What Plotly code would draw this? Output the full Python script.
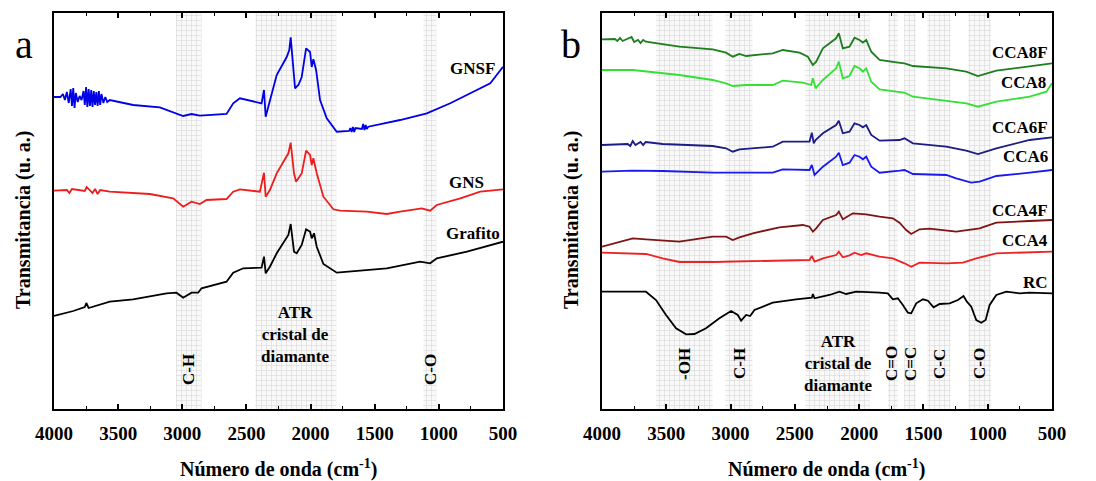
import plotly.graph_objects as go

# ---------------- data (wavenumber cm-1, transmittance a.u.) ----------------
gnsf_wn = [4000, 3950, 3930, 3915, 3900, 3885, 3870, 3860, 3850, 3840, 3830, 3815, 3800, 3785, 3770,
           3760, 3750, 3740, 3730, 3720, 3710, 3700, 3690, 3680, 3670, 3660, 3650, 3640, 3630, 3615,
           3600, 3585, 3565, 3383, 3175, 3045, 2993, 2928, 2863, 2655, 2603, 2551, 2447, 2382, 2363,
           2350, 2330, 2264, 2186, 2166, 2155, 2134, 2121, 2095, 2069, 2035, 2004, 1991, 1978, 1957,
           1926, 1874, 1796, 1700, 1690, 1680, 1670, 1660, 1650, 1600, 1590, 1580, 1570, 1562, 1550,
           1302, 1094, 911, 729, 599, 500]
gnsf_y = [312, 312, 315, 309, 317, 306, 320, 303, 321, 301, 316, 307, 313, 309, 318,
          304, 322, 302, 320, 303, 319, 302, 318, 304, 317, 303, 318, 304, 315, 306,
          312, 307, 309, 304, 301.7, 296, 293, 295, 293.3, 295, 305.7, 310.7, 308, 305.7, 319,
          292.3, 302, 334, 352, 359, 371.7, 342, 320.7, 324, 332, 360.7, 357, 342, 349.7, 339,
          309, 290.7, 277.3, 278, 281, 277, 282, 277, 281, 280, 285, 279, 284, 280, 282.3,
          289, 295.7, 305.7, 317.3, 325.7, 342.3]

gns_wn = [4000, 3900, 3880, 3860, 3760, 3745, 3700, 3680, 3660, 3640, 3565, 3253, 3071, 2993, 2928,
          2863, 2811, 2655, 2603, 2551, 2395, 2363, 2350, 2317, 2264, 2173, 2155, 2129, 2113, 2069,
          2035, 2004, 1991, 1978, 1952, 1900, 1822, 1770, 1562, 1406, 1302, 1133, 1068, 1016, 833,
          677, 500]
gns_y = [218.3, 219, 216, 220, 218, 222, 216, 220, 215, 219, 217.3, 215, 210.7, 202.3, 207.3,
         205, 209, 210, 217.3, 219.7, 217.3, 236.3, 212.3, 219, 235.7, 255.7, 266.3, 235.7, 227.3, 235.7,
         258.3, 254, 244, 250.7, 235.7, 212.3, 199.7, 198.3, 197.3, 195, 197.3, 200.7, 198.3, 204, 210.7,
         217.3, 219.7]

graf_wn = [4000, 3850, 3760, 3748, 3730, 3565, 3383, 3123, 3045, 2993, 2928, 2876, 2850, 2759, 2655,
           2603, 2525, 2382, 2363, 2350, 2317, 2264, 2173, 2155, 2129, 2108, 2069, 2035, 2004, 1991,
           1973, 1952, 1900, 1796, 1562, 1406, 1146, 1068, 1016, 781, 500]
graf_y = [93, 98, 102, 106, 101, 107.3, 109.7, 115.7, 116.3, 111.3, 116.3, 116.3, 120.7, 124, 127.3,
          136.3, 140.7, 141.3, 152.3, 135.7, 142.3, 155.7, 174, 185, 157.3, 155.7, 164, 179.7, 177.3, 170.7,
          175.7, 162.3, 145, 136.3, 139, 140.7, 147.3, 145.7, 150.7, 157.3, 167.3]

cca8f_wn = [4000, 3900, 3880, 3860, 3840, 3800, 3770, 3750, 3720, 3700, 3680, 3658, 3398, 3139, 3035,
            2983, 2931, 2879, 2672, 2594, 2464, 2399, 2360, 2334, 2282, 2179, 2158, 2127, 2075, 2036,
            1997, 1971, 1945, 1906, 1841, 1712, 1647, 1582, 1322, 1167, 1076, 933, 674, 500]
cca8f_y = [369.7, 370, 368, 371, 368, 370, 372, 367, 369, 366, 369, 367.3, 362.3, 359.7, 356.3,
           352.3, 355, 353, 355.7, 359, 356.3, 352.3, 344, 347.3, 360.7, 370.7, 375.7, 360.7, 362.3, 371.3,
           369, 366.3, 369, 357.3, 349, 346.7, 345.7, 343, 340.7, 337.3, 333, 338.3, 342.3, 345.7]

cca8_wn = [4000, 3761, 3398, 3139, 3035, 2983, 2879, 2672, 2594, 2438, 2373, 2360, 2339, 2282, 2179,
           2158, 2127, 2075, 2036, 1997, 1971, 1945, 1906, 1841, 1712, 1647, 1582, 1322, 1167, 1076,
           933, 674, 544, 500]
cca8_y = [339, 339, 334, 329, 325.7, 323, 324, 324, 328.3, 326.3, 324, 330.7, 320.7, 329, 340.7,
          347.3, 330.7, 333, 343, 340.7, 337.3, 340.7, 327.3, 319.7, 317.3, 316.3, 312.3, 308.3, 305.7, 302.3,
          307.3, 312.3, 317.3, 325.7]

cca6f_wn = [4000, 3800, 3780, 3761, 3740, 3700, 3680, 3660, 3528, 3139, 3035, 2983, 2931, 2672, 2594,
            2386, 2368, 2353, 2339, 2282, 2179, 2158, 2127, 2075, 2036, 1997, 1971, 1945, 1906, 1841,
            1686, 1647, 1582, 1322, 1167, 1076, 933, 674, 500]
cca6f_y = [264, 265, 263, 268, 264, 267, 264, 267, 265, 263, 260.7, 257.3, 259.7, 262.3, 267.3,
           267.3, 276.3, 265.7, 269, 275.7, 284, 288.3, 275.7, 277.3, 285.7, 284, 281.7, 284, 274, 268.3,
           269, 270.7, 265.7, 262.3, 258.3, 255, 260.7, 269, 271.7]

cca6_wn = [4000, 3761, 3528, 3139, 2672, 2594, 2386, 2368, 2347, 2282, 2179, 2158, 2127, 2075, 2036,
           1997, 1971, 1945, 1906, 1841, 1686, 1647, 1582, 1322, 1245, 1128, 1063, 933, 674, 500]
cca6_y = [237.3, 238.3, 238, 236.3, 236.3, 239.7, 239, 244, 234, 242.3, 252.3, 256.3, 244, 246.3, 254,
          252.3, 249.7, 252.3, 242.3, 236.3, 238.3, 239, 235, 234, 230.7, 226.3, 227.3, 233, 236.3, 239]

cca4f_wn = [4000, 3761, 3658, 3398, 3139, 3035, 2983, 2931, 2827, 2620, 2438, 2386, 2360, 2334, 2282,
            2179, 2158, 2127, 2049, 1945, 1841, 1738, 1686, 1634, 1595, 1530, 1452, 1245, 1063, 933,
            674, 500]
cca4f_y = [162.3, 170.7, 169.7, 167.3, 172.3, 172.3, 169, 171.7, 175.7, 181.7, 184, 182.3, 177.3, 180.7, 189,
           194, 197.3, 189.7, 195.7, 194.7, 192.3, 190.7, 186.3, 179, 175, 179.7, 180.3, 177.3, 180.7, 186.3,
           188, 189]

cca4_wn = [4000, 3761, 3658, 3528, 3398, 3139, 2620, 2386, 2368, 2347, 2282, 2179, 2158, 2127, 2075,
           2036, 1984, 1945, 1841, 1738, 1647, 1595, 1530, 1322, 1193, 1089, 933, 674, 500]
cca4_y = [156.3, 155.7, 155, 150.7, 147, 147, 148.3, 149, 153, 147.3, 150.7, 154, 157.3, 151.7, 153.7,
          156.3, 154, 155.7, 152.3, 150.7, 145.7, 142.3, 146.3, 145.7, 146.3, 150.7, 155.7, 156.7, 157.3]

rc_wn = [4000, 3658, 3580, 3502, 3424, 3346, 3281, 3191, 3087, 2996, 2944, 2918, 2879, 2848, 2814,
         2672, 2490, 2368, 2360, 2347, 2231, 2153, 2101, 2023, 1841, 1777, 1738, 1699, 1660, 1621,
         1595, 1556, 1504, 1465, 1421, 1374, 1296, 1232, 1188, 1162, 1128, 1089, 1050, 1016, 985,
         933, 855, 752, 674, 500]
rc_y = [117.3, 117.3, 109, 94, 80.7, 74.7, 75, 80.7, 90.7, 98, 94, 88.3, 94, 93, 99,
        106.3, 109.7, 111.3, 115, 110.7, 114, 117.3, 115, 117.3, 116.3, 115.7, 109.7, 110.7, 104, 96.3,
        95.7, 105.7, 109.7, 108.3, 101.7, 105, 105.7, 109, 113, 107.3, 102.3, 89, 86.3, 89, 104,
        114, 117.3, 115.7, 116.3, 115.7]

# band ranges (cm-1)
bands_a = [(3050, 2850), (2430, 1800), (1120, 1020)]
bands_b = [(3580, 3140), (3040, 2830), (2420, 1920), (1775, 1700), (1650, 1560), (1470, 1290), (1150, 975)]

tick_vals = [4000, 3500, 3000, 2500, 2000, 1500, 1000, 500]
tick_text = ["4000", "3500", "3000", "2500", "2000", "1500", "1000", "500"]

Y_MIN, Y_MAX = 0, 396
W, H = 1096, 481
SHIFT_X, SHIFT_Y = 8, 8   # page body margin compensation
SERIF = "Liberation Serif"

fig = go.Figure()

def add_bands(bands, xa, ya):
    for lo, hi in bands:
        fig.add_trace(go.Scatter(
            x=[lo, hi, hi, lo, lo], y=[Y_MIN, Y_MIN, Y_MAX, Y_MAX, Y_MIN],
            mode="lines", line=dict(width=0), fill="toself",
            fillcolor="#f3f3f3",
            fillpattern=dict(shape="+", fgcolor="#b4b4b4", bgcolor="#f9f9f9", size=5, solidity=0.22),
            xaxis=xa, yaxis=ya, hoverinfo="skip", showlegend=False))

add_bands(bands_a, "x", "y")
add_bands(bands_b, "x2", "y2")

def add_line(xs, ys, color, xa, ya):
    fig.add_trace(go.Scatter(x=xs, y=ys, mode="lines", line=dict(color=color, width=1.8),
                             xaxis=xa, yaxis=ya, showlegend=False))

add_line(gnsf_wn, gnsf_y, "#0000e6", "x", "y")
add_line(gns_wn, gns_y, "#ee1c1c", "x", "y")
add_line(graf_wn, graf_y, "#000000", "x", "y")

add_line(cca8f_wn, cca8f_y, "#1e7d1e", "x2", "y2")
add_line(cca8_wn, cca8_y, "#33e033", "x2", "y2")
add_line(cca6f_wn, cca6f_y, "#1c1c85", "x2", "y2")
add_line(cca6_wn, cca6_y, "#1a1aee", "x2", "y2")
add_line(cca4f_wn, cca4f_y, "#7f1414", "x2", "y2")
add_line(cca4_wn, cca4_y, "#ee2222", "x2", "y2")
add_line(rc_wn, rc_y, "#000000", "x2", "y2")

def px(x):
    return (x - SHIFT_X) / W

def py(y):
    return 1 - (y - SHIFT_Y) / H

xaxis_common = dict(
    range=[4000, 500], tickvals=tick_vals, ticktext=tick_text,
    ticks="inside", ticklen=5, tickwidth=1.5, tickcolor="black",
    minor=dict(dtick=250, tick0=0, ticks="inside", ticklen=3, tickwidth=1.2, tickcolor="black"),
    showline=True, linewidth=2, linecolor="black", mirror="ticks",
    showgrid=False, zeroline=False, ticklabelstandoff=6, automargin=False,
    tickfont=dict(family=SERIF, size=19, color="black", weight="bold"),
)
yaxis_common = dict(
    range=[Y_MIN, Y_MAX], showticklabels=False, ticks="",
    showline=True, linewidth=2, linecolor="black", mirror=True,
    showgrid=False, zeroline=False, automargin=False,
)

fig.update_layout(
    width=W, height=H, margin=dict(l=0, r=0, t=0, b=0, pad=0, autoexpand=False),
    paper_bgcolor="white", plot_bgcolor="white",
    xaxis=dict(domain=[px(54), px(503)], anchor="y", **xaxis_common),
    yaxis=dict(domain=[py(409), py(13)], anchor="x", **yaxis_common),
    xaxis2=dict(domain=[px(602), px(1052)], anchor="y2", **xaxis_common),
    yaxis2=dict(domain=[py(409), py(13)], anchor="x2", **yaxis_common),
)

def ann(text, x, y, size=17, angle=0, bold=True, xanchor="center"):
    fig.add_annotation(text=text, x=px(x), y=py(y), xref="paper", yref="paper",
                       showarrow=False, textangle=angle, xanchor=xanchor, yanchor="middle",
                       font=dict(family=SERIF, size=size, color="black",
                                 weight="bold" if bold else "normal"))

# axis titles
ann("Número de onda (cm<sup>-1</sup>)", 278, 468, size=20)
ann("Número de onda (cm<sup>-1</sup>)", 826, 468, size=20)
ann("Transmitancia (u. a.)", 23, 220, size=20, angle=-90)
ann("Transmitancia (u. a.)", 571, 220, size=20, angle=-90)

# panel letters
ann("a", 24, 45, size=40, bold=False)
ann("b", 571, 45, size=40, bold=False)

# series labels
ann("GNSF", 472, 69)
ann("GNS", 466, 182)
ann("Grafito", 473, 233)
ann("CCA8F", 1020, 52)
ann("CCA8", 1023, 82)
ann("CCA6F", 1020, 127)
ann("CCA6", 1025, 157)
ann("CCA4F", 1020, 210)
ann("CCA4", 1025, 240)
ann("RC", 1035, 282)

# band labels
ann("C-H", 188, 370, angle=-90)
ann("ATR<br>cristal de<br>diamante", 295, 334)
ann("C-O", 430, 370, angle=-90)
ann("-OH", 684, 364, angle=-90)
ann("C-H", 739, 364, angle=-90)
ann("ATR<br>cristal de<br>diamante", 838, 363)
ann("C=O", 891, 364, angle=-90)
ann("C=C", 910, 364, angle=-90)
ann("C-C", 939, 364, angle=-90)
ann("C-O", 979, 364, angle=-90)

fig.write_html("out.html")
